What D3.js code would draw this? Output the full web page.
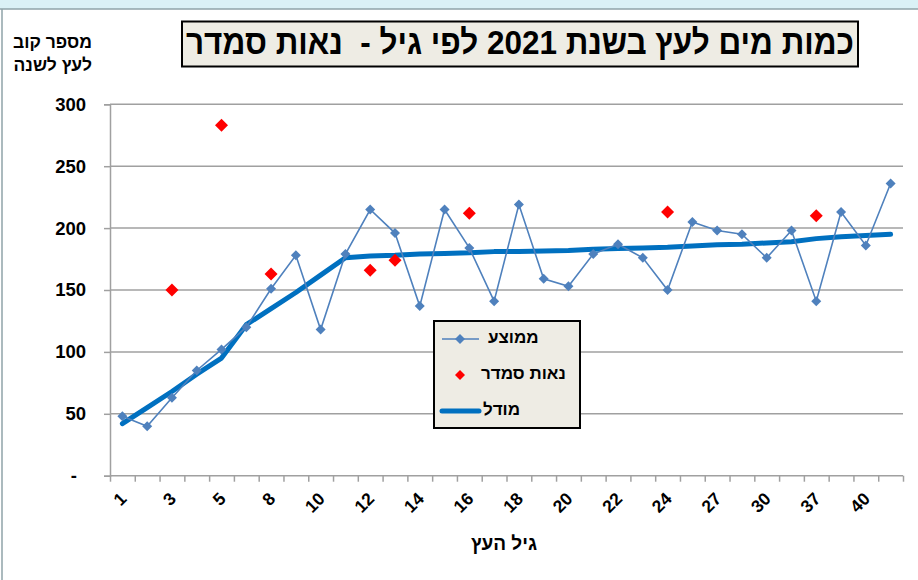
<!DOCTYPE html>
<html>
<head>
<meta charset="utf-8">
<script src="https://cdn.jsdelivr.net/npm/d3@7"></script>
<style>
  html, body { margin: 0; padding: 0; background: #fff; }
  svg { display: block; }
  text { font-family: "Liberation Sans", Arial, sans-serif; }
</style>
</head>
<body>
<svg id="chart" width="918" height="580" direction="ltr"></svg>
<script>
// ---- data ----
const categories = ["1","2","3","4","5","7","8","9","10","11","12","13","14","15","16","17",
                    "18","19","20","21","22","23","24","25","27","28","30","35","37","38","40","41"];
const labeledCategories = ["1","3","5","8","10","12","14","16","18","20","22","24","27","30","37","40"];
const averageValues = [48,40,63,85,102,120,151,178,118,179,215,196,137,215,184,141,
                       219,159,153,179,187,176,150,205,198,195,176,198,141,213,186,236];
const neotSmadarCats = ["3","5","8","12","13","16","24","37"];
const neotSmadarValues = [150,283,163,166,174,212,213,210];
const modelValues = [42,55,68,82,95,122,135,148,162,176,177.5,178,179,179.5,180,181,
                     181,181.5,182,183,183.5,184,184.5,185.5,186.5,187,188,189,191.5,193,194,195];
const yTicks = [0,50,100,150,200,250,300];
const seriesNames = ["ממוצע","נאות סמדר","מודל"];
const titleText = "כמות מים לעץ בשנת 2021 לפי גיל -  נאות סמדר";
const yTitleLines = ["מספר קוב","לעץ לשנה"];
const xTitle = "גיל העץ";

// ---- drawing ----
(function draw() {
const svg = d3.select("#chart");
const blue = "#4F81BD", red = "#FF0000", modelBlue = "#0070C0", grid = "#A0A0A0";

// outer frame
svg.append("rect").attr("x",0).attr("y",0).attr("width",918).attr("height",9).attr("fill","#DAF1F6");
svg.append("line").attr("x1",0).attr("x2",918).attr("y1",9).attr("y2",9).attr("stroke","#8FA3A8").attr("stroke-width",1.5);
svg.append("line").attr("x1",2).attr("x2",2).attr("y1",9).attr("y2",580).attr("stroke","#8FA3A8").attr("stroke-width",1.5);

const pLeft = 110, pRight = 903, pTop = 104.3, pBottom = 475.7;
const x = d3.scaleBand().domain(categories).range([pLeft, pRight]).padding(0);
const xi = d3.scaleLinear().domain([0, categories.length]).range([pLeft, pRight]);
const y = d3.scaleLinear().domain([0, 300]).range([pBottom, pTop]);
const cx = c => x(c) + x.bandwidth() / 2;

// gridlines
svg.append("g").selectAll("line").data(yTicks.filter(d => d > 0)).join("line")
  .attr("x1", pLeft).attr("x2", pRight).attr("y1", d => y(d)).attr("y2", d => y(d))
  .attr("stroke", grid).attr("stroke-width", 1.5);

// y axis
const yAxis = svg.append("g").attr("transform", `translate(${pLeft},0)`)
  .call(d3.axisLeft(y).tickValues(yTicks).tickSize(6).tickPadding(18)
    .tickFormat(d => d === 0 ? "-" : d));
yAxis.select(".domain").attr("stroke", grid).attr("stroke-width", 1.5);
yAxis.selectAll(".tick line").attr("stroke", grid).attr("stroke-width", 1.5);
yAxis.selectAll(".tick text").attr("fill", "#000").attr("font-size", 18.5).attr("font-weight", "bold")
  .attr("font-family", '"Liberation Sans", Arial, sans-serif')
  .attr("dx", d => d === 0 ? -9 : 0);

// x axis (ticks between categories)
const xAxis = svg.append("g").attr("transform", `translate(0,${pBottom})`)
  .call(d3.axisBottom(xi).tickValues(d3.range(0, categories.length + 1)).tickSize(6).tickFormat(""));
xAxis.select(".domain").attr("stroke", grid).attr("stroke-width", 1.5).attr("d", `M${pLeft},0H${pRight}`);
xAxis.selectAll(".tick line").attr("stroke", grid).attr("stroke-width", 1.5);

svg.append("g").selectAll("text").data(labeledCategories).join("text")
  .attr("transform", d => `translate(${cx(d) + 2},${pBottom + 21}) rotate(-45)`)
  .attr("text-anchor", "end").attr("dominant-baseline", "middle")
  .attr("font-size", 17.5).attr("font-weight", "bold").text(d => d);

// model line
svg.append("path").datum(modelValues)
  .attr("d", d3.line().x((d, i) => cx(categories[i])).y(d => y(d)))
  .attr("fill", "none").attr("stroke", modelBlue).attr("stroke-width", 5).attr("stroke-linejoin", "round").attr("stroke-linecap", "round");

// average line + markers
svg.append("path").datum(averageValues)
  .attr("d", d3.line().x((d, i) => cx(categories[i])).y(d => y(d)))
  .attr("fill", "none").attr("stroke", blue).attr("stroke-width", 1.6);
const diamond = r => `M0,${-r}L${r},0L0,${r}L${-r},0Z`;
svg.append("g").selectAll("path").data(averageValues).join("path")
  .attr("transform", (d, i) => `translate(${cx(categories[i])},${y(d)})`)
  .attr("d", diamond(5)).attr("fill", blue);

// Neot Smadar markers
svg.append("g").selectAll("path").data(neotSmadarValues).join("path")
  .attr("transform", (d, i) => `translate(${cx(neotSmadarCats[i])},${y(d)})`)
  .attr("d", diamond(6.5)).attr("fill", red);

// legend
const lg = svg.append("g");
lg.append("rect").attr("x", 434).attr("y", 321).attr("width", 146).attr("height", 107)
  .attr("fill", "#EEECE4").attr("stroke", "#000").attr("stroke-width", 2);
const ly = [339, 375, 411];
lg.append("line").attr("x1", 442).attr("x2", 479).attr("y1", ly[0]).attr("y2", ly[0]).attr("stroke", blue).attr("stroke-width", 1.6);
lg.append("path").attr("transform", `translate(460,${ly[0]})`).attr("d", diamond(5)).attr("fill", blue);
lg.append("path").attr("transform", `translate(460,${ly[1]})`).attr("d", diamond(5)).attr("fill", red);
lg.append("line").attr("x1", 442).attr("x2", 479).attr("y1", ly[2]).attr("y2", ly[2]).attr("stroke", modelBlue).attr("stroke-width", 5).attr("stroke-linecap", "round");
lg.selectAll("text").data(seriesNames).join("text")
  .attr("x", (d, i) => [488, 481, 483][i]).attr("y", (d, i) => ly[i])
  .attr("text-anchor", "start").attr("dominant-baseline", "middle")
  .attr("font-size", 17).attr("font-weight", "bold").text(d => d);

// title
svg.append("rect").attr("x", 182).attr("y", 21.5).attr("width", 676).attr("height", 45)
  .attr("fill", "#EEECE4").attr("stroke", "#000").attr("stroke-width", 2);
svg.append("text").attr("x", 520).attr("y", 45).attr("text-anchor", "middle").attr("dominant-baseline", "middle")
  .attr("font-family", '"Liberation Sans Narrow", "Arial Narrow", "Liberation Sans", sans-serif')
  .attr("font-size", 34).attr("font-weight", "bold")
  .style("white-space", "pre")
  .attr("textLength", 668).attr("lengthAdjust", "spacingAndGlyphs")
  .text(titleText);

// y title
svg.append("g").selectAll("text").data(yTitleLines).join("text")
  .attr("x", 92).attr("y", (d, i) => 43 + i * 23)
  .attr("text-anchor", "end").attr("dominant-baseline", "middle")
  .attr("font-size", 17.5).attr("font-weight", "bold").text(d => d);

// x title
svg.append("text").attr("x", 504).attr("y", 545).attr("text-anchor", "middle").attr("dominant-baseline", "middle")
  .attr("font-size", 19).attr("font-weight", "bold").text(xTitle);
})();
</script>
</body>
</html>
